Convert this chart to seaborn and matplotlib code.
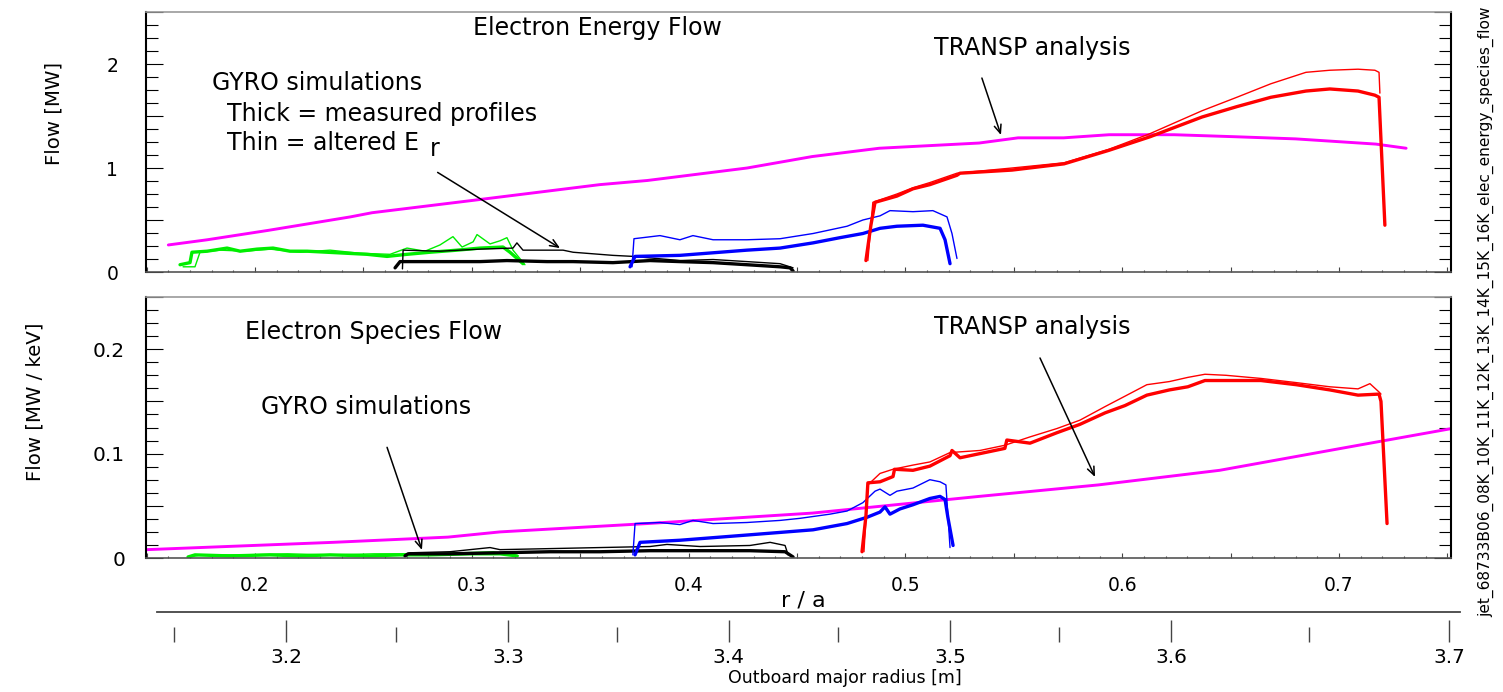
import matplotlib
matplotlib.use("Agg")
import matplotlib.pyplot as plt
from matplotlib import font_manager
from matplotlib.text import OffsetFrom
from matplotlib.ticker import MultipleLocator, FuncFormatter
import seaborn as sns

# ---------------- top panel: electron energy flow [MW] vs r/a ----------------
top_transp_rho = [0.160, 0.178, 0.206, 0.244, 0.254, 0.301, 0.359, 0.381, 0.427, 0.457,
                  0.488, 0.534, 0.552, 0.573, 0.594, 0.624, 0.653, 0.680, 0.717, 0.731]
top_transp_flow = [0.26, 0.31, 0.40, 0.53, 0.57, 0.69, 0.84, 0.88, 1.00, 1.11,
                   1.19, 1.24, 1.29, 1.29, 1.32, 1.32, 1.30, 1.28, 1.23, 1.19]

top_green_thick_rho = [0.1654, 0.1700, 0.1709, 0.1779, 0.1871, 0.1931, 0.2009, 0.2083, 0.2161, 0.2240, 0.2332,
                       0.2424, 0.2517, 0.2609, 0.2701, 0.2807, 0.2932, 0.3038, 0.3144, 0.3176, 0.3236]
top_green_thick_flow = [0.07, 0.09, 0.19, 0.20, 0.23, 0.20, 0.22, 0.23, 0.20, 0.20, 0.19,
                        0.18, 0.17, 0.15, 0.17, 0.19, 0.21, 0.23, 0.24, 0.19, 0.08]
top_green_thin_rho = [0.1668, 0.1723, 0.1746, 0.1839, 0.1954, 0.2069, 0.2208, 0.2346, 0.2484, 0.2623, 0.2701,
                      0.2784, 0.2853, 0.2913, 0.2955, 0.3006, 0.3024, 0.3084, 0.3130, 0.3162, 0.3190, 0.3245]
top_green_thin_flow = [0.05, 0.05, 0.19, 0.21, 0.20, 0.22, 0.19, 0.21, 0.18, 0.17, 0.23,
                       0.20, 0.26, 0.34, 0.24, 0.29, 0.36, 0.27, 0.30, 0.33, 0.21, 0.07]

top_black_thick_rho = [0.2646, 0.2669, 0.2853, 0.3038, 0.3162, 0.3347, 0.3467, 0.3651, 0.3822, 0.3960,
                       0.4113, 0.4269, 0.4422, 0.4468, 0.4482]
top_black_thick_flow = [0.04, 0.10, 0.10, 0.10, 0.11, 0.10, 0.10, 0.09, 0.11, 0.10,
                        0.09, 0.07, 0.05, 0.04, 0.01]
top_black_thin_rho = [0.2680, 0.2683, 0.2853, 0.3038, 0.3190, 0.3208, 0.3236, 0.3421, 0.3467, 0.3651,
                      0.3744, 0.3960, 0.4113, 0.4269, 0.4422, 0.4482]
top_black_thin_flow = [0.03, 0.21, 0.20, 0.22, 0.23, 0.28, 0.21, 0.21, 0.19, 0.16,
                       0.15, 0.11, 0.12, 0.10, 0.08, 0.04]

top_blue_thick_rho = [0.3730, 0.3753, 0.3960, 0.4269, 0.4422, 0.4574, 0.4698, 0.4804, 0.4883, 0.4961,
                      0.5081, 0.5160, 0.5183, 0.5206]
top_blue_thick_flow = [0.05, 0.15, 0.16, 0.21, 0.23, 0.28, 0.33, 0.37, 0.42, 0.44,
                       0.45, 0.42, 0.31, 0.08]
top_blue_thin_rho = [0.3739, 0.3748, 0.3868, 0.3960, 0.4020, 0.4113, 0.4269, 0.4422, 0.4574, 0.4731,
                     0.4804, 0.4883, 0.4929, 0.5035, 0.5127, 0.5192, 0.5215, 0.5238]
top_blue_thin_flow = [0.05, 0.32, 0.35, 0.31, 0.35, 0.31, 0.31, 0.32, 0.37, 0.44,
                      0.50, 0.54, 0.59, 0.58, 0.59, 0.53, 0.37, 0.13]

top_red_thick_rho = [0.4818, 0.4841, 0.4860, 0.4961, 0.5035, 0.5113, 0.5238, 0.5252, 0.5492, 0.5732,
                     0.5939, 0.6128, 0.6368, 0.6529, 0.6686, 0.6848, 0.6958, 0.7088, 0.7166, 0.7185, 0.7212]
top_red_thick_flow = [0.11, 0.45, 0.67, 0.73, 0.80, 0.84, 0.93, 0.95, 0.98, 1.04,
                      1.17, 1.30, 1.49, 1.59, 1.68, 1.74, 1.76, 1.74, 1.70, 1.68, 0.45]
top_red_thin_rho = [0.4827, 0.4850, 0.4961, 0.5035, 0.5113, 0.5238, 0.5492, 0.5732, 0.5939, 0.6128,
                    0.6368, 0.6529, 0.6686, 0.6848, 0.6958, 0.7088, 0.7166, 0.7185, 0.7189]
top_red_thin_flow = [0.11, 0.67, 0.75, 0.81, 0.86, 0.95, 1.00, 1.05, 1.18, 1.33,
                     1.55, 1.68, 1.81, 1.92, 1.94, 1.95, 1.94, 1.92, 1.72]

# ---------------- bottom panel: electron species flow [MW/keV] ----------------
bot_transp_rho = [0.150, 0.236, 0.289, 0.313, 0.381, 0.457, 0.534, 0.589, 0.645, 0.701, 0.752]
bot_transp_flow = [0.008, 0.015, 0.020, 0.025, 0.033, 0.043, 0.059, 0.070, 0.084, 0.105, 0.124]

bot_green_thick_rho = [0.1691, 0.1723, 0.1885, 0.2069, 0.2208, 0.2346, 0.2530, 0.2669, 0.2807, 0.2992, 0.3130, 0.3208]
bot_green_thick_flow = [0.001, 0.003, 0.002, 0.003, 0.002, 0.003, 0.002, 0.003, 0.003, 0.004, 0.004, 0.002]
bot_green_thin_rho = [0.1700, 0.1750, 0.1950, 0.2150, 0.2350, 0.2550, 0.2750, 0.2950, 0.3100, 0.3215]
bot_green_thin_flow = [0.001, 0.003, 0.003, 0.004, 0.003, 0.004, 0.004, 0.005, 0.006, 0.002]

bot_black_thick_rho = [0.2692, 0.2706, 0.2899, 0.3130, 0.3361, 0.3591, 0.3822, 0.4053, 0.4283, 0.4445, 0.4482]
bot_black_thick_flow = [0.002, 0.004, 0.004, 0.005, 0.006, 0.006, 0.007, 0.007, 0.007, 0.006, 0.001]
bot_black_thin_rho = [0.2692, 0.2715, 0.2899, 0.3084, 0.3130, 0.3361, 0.3591, 0.3822, 0.3900, 0.4053,
                      0.4283, 0.4376, 0.4445, 0.4459]
bot_black_thin_flow = [0.003, 0.005, 0.006, 0.010, 0.008, 0.009, 0.010, 0.011, 0.013, 0.011,
                       0.012, 0.015, 0.012, 0.003]

bot_blue_thick_rho = [0.3753, 0.3776, 0.3960, 0.4269, 0.4574, 0.4731, 0.4823, 0.4883, 0.4906, 0.4929,
                      0.4975, 0.5035, 0.5113, 0.5160, 0.5183, 0.5196, 0.5220]
bot_blue_thick_flow = [0.003, 0.015, 0.017, 0.022, 0.027, 0.033, 0.039, 0.044, 0.049, 0.042,
                       0.047, 0.051, 0.057, 0.059, 0.056, 0.039, 0.012]
bot_blue_thin_rho = [0.3743, 0.3753, 0.3868, 0.3960, 0.4020, 0.4113, 0.4269, 0.4422, 0.4514, 0.4652,
                     0.4731, 0.4804, 0.4860, 0.4883, 0.4929, 0.4961, 0.5035, 0.5113, 0.5160, 0.5187, 0.5206]
bot_blue_thin_flow = [0.003, 0.033, 0.034, 0.032, 0.036, 0.033, 0.034, 0.036, 0.038, 0.042,
                      0.045, 0.053, 0.064, 0.066, 0.060, 0.064, 0.067, 0.075, 0.073, 0.070, 0.010]

bot_red_thick_rho = [0.4800, 0.4818, 0.4827, 0.4883, 0.4943, 0.4950, 0.5035, 0.5113, 0.5206, 0.5215,
                     0.5252, 0.5344, 0.5459, 0.5468, 0.5575, 0.5699, 0.5805, 0.5921, 0.6013, 0.6114,
                     0.6218, 0.6303, 0.6382, 0.6479, 0.6640, 0.6803, 0.6958, 0.7088, 0.7185, 0.7194, 0.7222]
bot_red_thick_flow = [0.006, 0.040, 0.072, 0.073, 0.078, 0.085, 0.084, 0.088, 0.098, 0.103,
                      0.096, 0.100, 0.105, 0.113, 0.110, 0.120, 0.128, 0.139, 0.146, 0.156,
                      0.161, 0.164, 0.170, 0.170, 0.170, 0.166, 0.161, 0.156, 0.157, 0.150, 0.033]
bot_red_thin_rho = [0.4809, 0.4827, 0.4883, 0.4943, 0.5035, 0.5113, 0.5206, 0.5344, 0.5459, 0.5575,
                    0.5699, 0.5805, 0.5921, 0.6013, 0.6114, 0.6218, 0.6303, 0.6382, 0.6479, 0.6640,
                    0.6803, 0.6958, 0.7088, 0.7143, 0.7185, 0.7194]
bot_red_thin_flow = [0.006, 0.070, 0.081, 0.085, 0.089, 0.092, 0.101, 0.103, 0.108, 0.116,
                     0.124, 0.132, 0.145, 0.155, 0.166, 0.169, 0.173, 0.176, 0.175, 0.172,
                     0.168, 0.164, 0.162, 0.167, 0.159, 0.157]

# ---------------- shared x axes: r/a labels and outboard major radius ----------------
ra_ticks = [0.2, 0.3, 0.4, 0.5, 0.6, 0.7]
ra_labels = ["0.2", "0.3", "0.4", "0.5", "0.6", "0.7"]
major_radius_labels = ["3.2", "3.3", "3.4", "3.5", "3.6", "3.7"]
major_radius_rho = [0.2143, 0.3167, 0.4186, 0.5206, 0.6225, 0.7507]
half_radius_rho = [0.1626, 0.2650, 0.3670, 0.4689, 0.5708, 0.6862]  # 3.15 ... 3.65

RUN_ID = "jet_68733B06_08K_10K_11K_12K_13K_14K_15K_16K_elec_energy_species_flow"

W, H = 1503, 692
PANEL_XLIM = (0.1497, 0.7517)
AXIS_XLIM = (0.1548, 0.7558)

sns.set_style("ticks")
plt.rcParams["font.family"] = ["DejaVu Sans"]
plt.rcParams["text.color"] = "black"
plt.rcParams["xtick.color"] = "black"
plt.rcParams["ytick.color"] = "black"
plt.rcParams["xtick.labelcolor"] = "black"
plt.rcParams["ytick.labelcolor"] = "black"
installed = {f.name for f in font_manager.fontManager.ttflist}
NARROW = "Liberation Sans Narrow" if "Liberation Sans Narrow" in installed else None


def fx(px):
    return px / W


def fy(py):
    return 1 - py / H


def draw(ax, x, y, color, lw):
    sns.lineplot(x=x, y=y, ax=ax, color=color, linewidth=lw,
                 estimator=None, sort=False, legend=False)


def style_panel(ax, ymax, ymajor, yminor, ystep, pad, size):
    ax.set_xlim(PANEL_XLIM)
    ax.set_ylim(0, ymax)
    ax.set_xlabel("")
    ax.set_ylabel("")
    ax.xaxis.set_major_locator(MultipleLocator(0.05))
    ax.xaxis.set_minor_locator(MultipleLocator(0.01))
    ax.yaxis.set_major_locator(MultipleLocator(ymajor))
    ax.yaxis.set_minor_locator(MultipleLocator(yminor))
    ax.yaxis.set_major_formatter(FuncFormatter(
        lambda v, p: f"{v:g}" if abs(v / ystep - round(v / ystep)) < 1e-6 else ""))
    ax.tick_params(axis="x", which="both", direction="in", bottom=True, top=False,
                   labelbottom=False, color="#444444", width=0.8)
    ax.tick_params(axis="x", which="major", length=3.5)
    ax.tick_params(axis="x", which="minor", length=1.8)
    ax.tick_params(axis="y", which="both", direction="in", left=True, right=True,
                   color="black", labelcolor="black", width=0.8)
    ax.tick_params(axis="y", which="major", length=12, pad=pad, labelsize=size)
    ax.tick_params(axis="y", which="minor", length=8.5)
    for side in ("left", "right"):
        ax.spines[side].set_color("black")
        ax.spines[side].set_linewidth(1.5)
    ax.spines["top"].set_color("#999999")
    ax.spines["bottom"].set_color("#555555")
    ax.spines["top"].set_linewidth(1.2)
    ax.spines["bottom"].set_linewidth(1.2)


def arrow(ax, start, end):
    ax.annotate("", xy=end, xytext=start, xycoords="data", textcoords="data",
                arrowprops=dict(arrowstyle="->,head_length=0.6,head_width=0.25",
                                color="black", lw=1.1, shrinkA=0, shrinkB=0))


fig = plt.figure(figsize=(W / 100, H / 100), dpi=100)
ax_top = fig.add_axes([fx(146), fy(272), (1451 - 146) / W, 260 / H])
ax_bot = fig.add_axes([fx(146), fy(558), (1451 - 146) / W, 261 / H])

THICK, THIN, TRANSP_LW = 2.4, 1.0, 2.1

# top panel
draw(ax_top, top_transp_rho, top_transp_flow, "#ff00ff", TRANSP_LW)
draw(ax_top, top_green_thick_rho, top_green_thick_flow, "#00ee00", THICK)
draw(ax_top, top_green_thin_rho, top_green_thin_flow, "#00ee00", THIN)
draw(ax_top, top_black_thick_rho, top_black_thick_flow, "black", THICK)
draw(ax_top, top_black_thin_rho, top_black_thin_flow, "black", THIN)
draw(ax_top, top_blue_thick_rho, top_blue_thick_flow, "#0000ff", THICK)
draw(ax_top, top_blue_thin_rho, top_blue_thin_flow, "#0000ff", THIN)
draw(ax_top, top_red_thick_rho, top_red_thick_flow, "#ff0000", THICK)
draw(ax_top, top_red_thin_rho, top_red_thin_flow, "#ff0000", THIN)
style_panel(ax_top, 2.5, 0.5, 0.125, 1.0, 20, 13.5)

# bottom panel
draw(ax_bot, bot_transp_rho, bot_transp_flow, "#ff00ff", TRANSP_LW)
draw(ax_bot, bot_green_thick_rho, bot_green_thick_flow, "#00ee00", THICK)
draw(ax_bot, bot_green_thin_rho, bot_green_thin_flow, "#00ee00", THIN)
draw(ax_bot, bot_black_thick_rho, bot_black_thick_flow, "black", THICK)
draw(ax_bot, bot_black_thin_rho, bot_black_thin_flow, "black", THIN)
draw(ax_bot, bot_blue_thick_rho, bot_blue_thick_flow, "#0000ff", THICK)
draw(ax_bot, bot_blue_thin_rho, bot_blue_thin_flow, "#0000ff", THIN)
draw(ax_bot, bot_red_thick_rho, bot_red_thick_flow, "#ff0000", THICK)
draw(ax_bot, bot_red_thin_rho, bot_red_thin_flow, "#ff0000", THIN)
style_panel(ax_bot, 0.25, 0.05, 0.0125, 0.1, 15, 14.5)

# annotations, top
TXT = 17
ax_top.text(0.3578, 2.346, "Electron Energy Flow", fontsize=TXT, ha="center", va="center")
ax_top.text(0.5584, 2.154, "TRANSP analysis", fontsize=TXT, ha="center", va="center")
ax_top.text(0.1800, 1.817, "GYRO simulations", fontsize=TXT, ha="left", va="center")
ax_top.text(0.1870, 1.519, "Thick = measured profiles", fontsize=TXT, ha="left", va="center")
thin_txt = ax_top.text(0.1870, 1.240, "Thin = altered E", fontsize=TXT, ha="left", va="center")
r_txt = ax_top.annotate("r", xy=(1, 0), xycoords=thin_txt, xytext=(8, -4.5),
                        textcoords="offset points", fontsize=TXT, ha="left", va="bottom")
ax_top.annotate("", xy=(0.3407, 0.23), xycoords="data", xytext=(2, -8),
                textcoords=OffsetFrom(r_txt, (0.5, 0)),
                arrowprops=dict(arrowstyle="->,head_length=0.6,head_width=0.25",
                                color="black", lw=1.1, shrinkA=0, shrinkB=0))
arrow(ax_top, (0.5353, 1.865), (0.5441, 1.317))

# annotations, bottom
ax_bot.text(0.2549, 0.2165, "Electron Species Flow", fontsize=TXT, ha="center", va="center")
ax_bot.text(0.5584, 0.2213, "TRANSP analysis", fontsize=TXT, ha="center", va="center")
ax_bot.text(0.2512, 0.1446, "GYRO simulations", fontsize=TXT, ha="center", va="center")
arrow(ax_bot, (0.2609, 0.106), (0.2770, 0.0077))
arrow(ax_bot, (0.5621, 0.1916), (0.5875, 0.0776))

# y labels
if NARROW:
    ylab_kw = dict(family=[NARROW, "DejaVu Sans"], fontsize=19)
    id_kw = dict(family=[NARROW, "DejaVu Sans"], fontsize=14.3)
else:
    ylab_kw = dict(fontsize=14.2)
    id_kw = dict(fontsize=11.1)
fig.text(fx(54), fy(113), "Flow [MW]", rotation=90, ha="center", va="center", **ylab_kw)
fig.text(fx(35), fy(402), "Flow [MW / keV]", rotation=90, ha="center", va="center", **ylab_kw)
fig.text(fx(1486), fy(312), RUN_ID, rotation=90, ha="center", va="center", **id_kw)

# outboard major radius axis with r/a labels above it
ax_r = fig.add_axes([fx(157), fy(642), (1460 - 157) / W, 30 / H])
ax_r.patch.set_alpha(0)
ax_r.set_xlim(AXIS_XLIM)
ax_r.set_ylim(0, 1)
ax_r.set_yticks([])
for side in ("left", "right", "bottom"):
    ax_r.spines[side].set_visible(False)
ax_r.spines["top"].set_color("#444444")
ax_r.spines["top"].set_linewidth(1.3)
ax_r.set_xticks(major_radius_rho)
ax_r.set_xticklabels(major_radius_labels)
ax_r.set_xticks(half_radius_rho, minor=True)
ax_r.tick_params(axis="x", which="both", direction="in", bottom=False, top=True,
                 labelbottom=True, labeltop=False, color="#444444", labelcolor="black", width=1.0)
ax_r.tick_params(axis="x", which="major", length=16, pad=4, labelsize=14.5)
ax_r.tick_params(axis="x", which="minor", length=11)

ax_ra = ax_r.twiny()
ax_ra.set_xlim(AXIS_XLIM)
ax_ra.set_xticks(ra_ticks)
ax_ra.set_xticklabels(ra_labels)
ax_ra.set_xticks([], minor=True)
ax_ra.tick_params(axis="x", which="both", top=True, bottom=False, length=0, pad=12,
                  labelsize=13.5, labelcolor="black")
for side in ("left", "right", "bottom", "top"):
    ax_ra.spines[side].set_visible(False)

fig.text(fx(803), fy(600), "r / a", fontsize=16, ha="center", va="center")
fig.text(fx(845), fy(678), "Outboard major radius [m]", fontsize=12.5, ha="center", va="center")

fig.savefig("out.png", dpi=100)
